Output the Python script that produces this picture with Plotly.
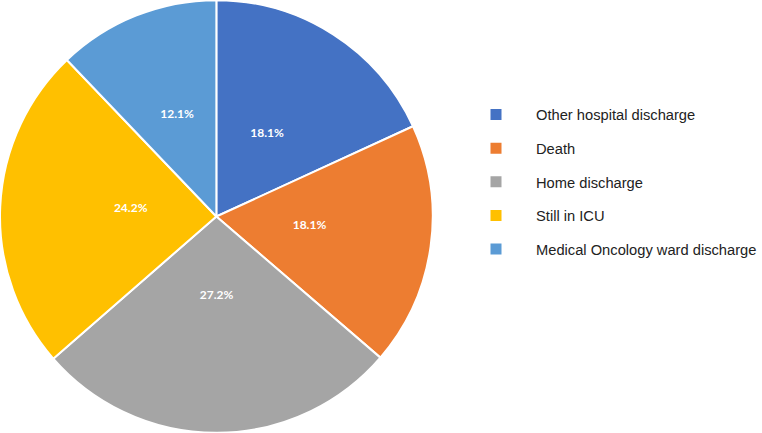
import plotly.graph_objects as go

labels = ["Other hospital discharge", "Death", "Home discharge", "Still in ICU", "Medical Oncology ward discharge"]
values = [18.1, 18.1, 27.2, 24.2, 12.1]
colors = ["#4472C4", "#ED7D31", "#A5A5A5", "#FFC000", "#5B9BD5"]

W, H = 762, 433
cx, cy = 221, 216.5
r_txt = 148
ty = cy - 5  # centre of the transparent label pie, in pixels from the top

fig = go.Figure()
# coloured slices
fig.add_trace(go.Pie(
    labels=labels,
    values=values,
    sort=False,
    direction="clockwise",
    rotation=0,
    marker=dict(colors=colors, line=dict(color="white", width=2)),
    textinfo="none",
    domain=dict(x=[0, 2 * cx / W], y=[0, 1]),
    showlegend=False,
    hoverinfo="label+value",
))
# percentage labels (transparent, smaller pie so labels sit nearer the centre)
fig.add_trace(go.Pie(
    labels=labels,
    values=values,
    sort=False,
    direction="clockwise",
    rotation=0,
    marker=dict(colors=["rgba(0,0,0,0)"] * len(values), line=dict(width=0)),
    texttemplate="%{value:.1f}%",
    textposition="inside",
    insidetextorientation="horizontal",
    textfont=dict(family="Lato", size=12, color="white", weight="bold"),
    domain=dict(x=[(cx - r_txt) / W, (cx + r_txt) / W],
                y=[1 - (ty + r_txt) / H, 1 - (ty - r_txt) / H]),
    showlegend=False,
    hoverinfo="skip",
))

for lab, col in zip(labels, colors):
    fig.add_trace(go.Scatter(
        x=[None], y=[None], mode="markers",
        marker=dict(symbol="square", size=11, color=col),
        name=lab, legendgroup=lab, showlegend=True,
    ))

fig.update_layout(
    width=W, height=H,
    margin=dict(l=0, r=0, t=0, b=0),
    paper_bgcolor="white", plot_bgcolor="white",
    xaxis=dict(visible=False), yaxis=dict(visible=False),
    legend=dict(
        x=466 / W, y=1 - 182 / H, xanchor="left", yanchor="middle",
        itemwidth=70, tracegroupgap=11.5,
        font=dict(family="Liberation Sans", size=14.7, color="#222222"),
        bgcolor="rgba(0,0,0,0)",
    ),
)

fig.write_html("out.html", config={"displayModeBar": False},
               post_script="document.body.style.margin='0';")
